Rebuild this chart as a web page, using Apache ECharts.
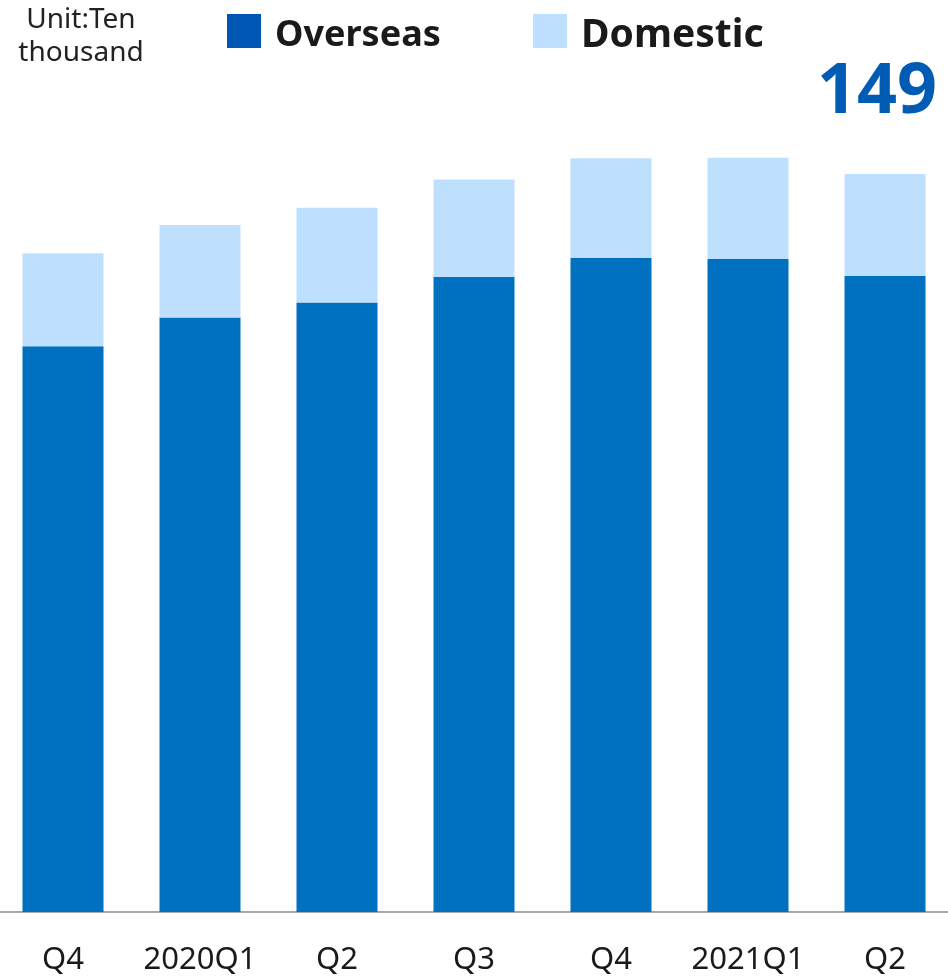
<!DOCTYPE html>
<html>
<head>
<meta charset="utf-8">
<script src="https://cdn.jsdelivr.net/npm/echarts@6/dist/echarts.min.js"></script>
<style>
html,body{margin:0;padding:0;background:#fff;}
#chart{width:948px;height:979px;}
</style>
</head>
<body>
<div id="chart"></div>
<script>
var categories = ['Q4', '2020Q1', 'Q2', 'Q3', 'Q4', '2021Q1', 'Q2'];
var overseas = [114.4, 120.2, 123.2, 128.4, 132.2, 132.0, 128.6];
var domestic = [18.8, 18.7, 19.2, 19.7, 20.2, 20.5, 20.6];
var totalLabel = '149';

var FONT = '"Noto Sans", "Noto Sans CJK JP", sans-serif';
var chart = echarts.init(document.getElementById('chart'));

var domesticData = domestic.map(function (v, i) {
  if (i === domestic.length - 1) {
    return {
      value: v,
      label: {
        show: true,
        position: 'top',
        distance: 46,
        offset: [-8, 0],
        formatter: function () { return totalLabel; },
        fontFamily: FONT,
        fontSize: 70,
        fontWeight: 'bold',
        color: '#005BB5'
      }
    };
  }
  return v;
});

function legendText(size) {
  return {
    fontFamily: FONT, fontSize: size, fontWeight: 'bold', color: '#1a1a1a',
    rich: {
      t: { fontFamily: FONT, fontSize: size, fontWeight: 'bold', color: '#1a1a1a', padding: [9, 0, 0, 9] }
    }
  };
}

chart.setOption({
  backgroundColor: '#ffffff',
  animation: false,
  textStyle: { fontFamily: FONT },
  graphic: [{
    type: 'text',
    x: 81,
    y: 4,
    style: {
      text: 'Unit:Ten\nthousand',
      fontFamily: FONT,
      fontSize: 28,
      lineHeight: 33,
      fill: '#222222',
      align: 'center'
    }
  }],
  legend: [{
    data: [{ name: 'Overseas', itemStyle: { color: '#0057B3' } }],
    left: 227,
    top: 14,
    padding: 0,
    itemWidth: 34,
    itemHeight: 34,
    icon: 'rect',
    selectedMode: false,
    formatter: '{t|{name}}',
    textStyle: legendText(36)
  }, {
    data: [{ name: 'Domestic', itemStyle: { color: '#BFDFFF' } }],
    left: 533,
    top: 14,
    padding: 0,
    itemWidth: 34,
    itemHeight: 34,
    icon: 'rect',
    selectedMode: false,
    formatter: '{t|{name}}',
    textStyle: legendText(39)
  }],
  grid: { left: -5.5, right: -5.5, top: 120.6, bottom: 67, containLabel: false, outerBoundsMode: 'none' },
  xAxis: {
    type: 'category',
    data: categories,
    axisLine: { show: true, lineStyle: { color: '#a6a6a6', width: 2 } },
    axisTick: { show: false },
    axisLabel: { interval: 0, fontFamily: FONT, fontSize: 31, color: '#1a1a1a', margin: 33 }
  },
  yAxis: {
    type: 'value',
    min: 0,
    max: 160,
    show: false,
    splitLine: { show: false }
  },
  series: [{
    name: 'Overseas',
    type: 'bar',
    stack: 'total',
    barWidth: 81,
    data: overseas,
    itemStyle: { color: '#0070C0' }
  }, {
    name: 'Domestic',
    type: 'bar',
    stack: 'total',
    barWidth: 81,
    data: domesticData,
    itemStyle: { color: '#BFDFFF' }
  }]
});
</script>
</body>
</html>
